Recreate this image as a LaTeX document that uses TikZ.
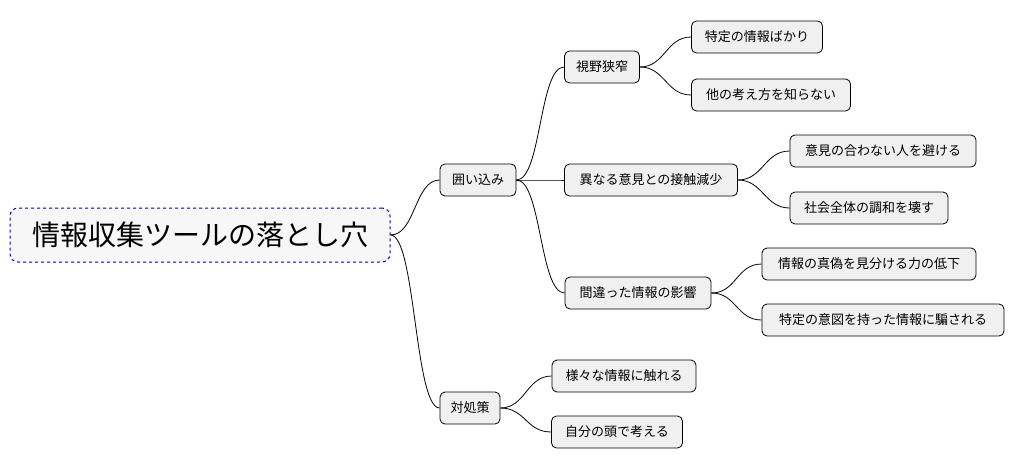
\documentclass[tikz,border=0pt]{standalone}
\usetikzlibrary{calc}
\usepackage{fontspec}
\setmainfont{Noto Sans CJK JP}
\begin{document}
\begin{tikzpicture}[x=1pt,y=-1pt,
  box/.style={draw=black,fill=black!6,rounded corners=5pt,minimum height=32pt,inner xsep=8pt,font=\fontsize{13}{15}\selectfont,line width=0.8pt},
  rootbox/.style={draw=blue!80!black,dashed,fill=black!3,rounded corners=8pt,minimum height=54pt,minimum width=380pt,font=\fontsize{28}{32}\selectfont,line width=1pt},
  link/.style={draw=black,line width=0.8pt}]
\useasboundingbox (0,0) rectangle (1016,471);
\node[rootbox] (r) at (200,235) {情報収集ツールの落とし穴};
\node[box,minimum width=76pt] (a) at (478,180) {囲い込み};
\node[box,minimum width=60pt] (b) at (470,408) {対処策};
\node[box,minimum width=75pt] (a1) at (602,67) {視野狭窄};
\node[box,minimum width=173pt] (a2) at (651,180) {異なる意見との接触減少};
\node[box,minimum width=146pt] (a3) at (638,293) {間違った情報の影響};
\node[box,minimum width=131pt] (a11) at (757,37) {特定の情報ばかり};
\node[box,minimum width=159pt] (a12) at (771,95) {他の考え方を知らない};
\node[box,minimum width=186pt] (a21) at (883,151) {意見の合わない人を避ける};
\node[box,minimum width=158pt] (a22) at (869,208) {社会全体の調和を壊す};
\node[box,minimum width=214pt] (a31) at (869,264) {情報の真偽を見分ける力の低下};
\node[box,minimum width=242pt] (a32) at (883,320) {特定の意図を持った情報に騙される};
\node[box,minimum width=144pt] (b1) at (624,376) {様々な情報に触れる};
\node[box,minimum width=131pt] (b2) at (617,432) {自分の頭で考える};
\foreach \p/\c in {r/a,r/b,a/a1,a/a2,a/a3,a1/a11,a1/a12,a2/a21,a2/a22,a3/a31,a3/a32,b/b1,b/b2}
  \draw[link] (\p.east) .. controls ($(\p.east)+(25,0)$) and ($(\c.west)+(-25,0)$) .. (\c.west);
\end{tikzpicture}
\end{document}
